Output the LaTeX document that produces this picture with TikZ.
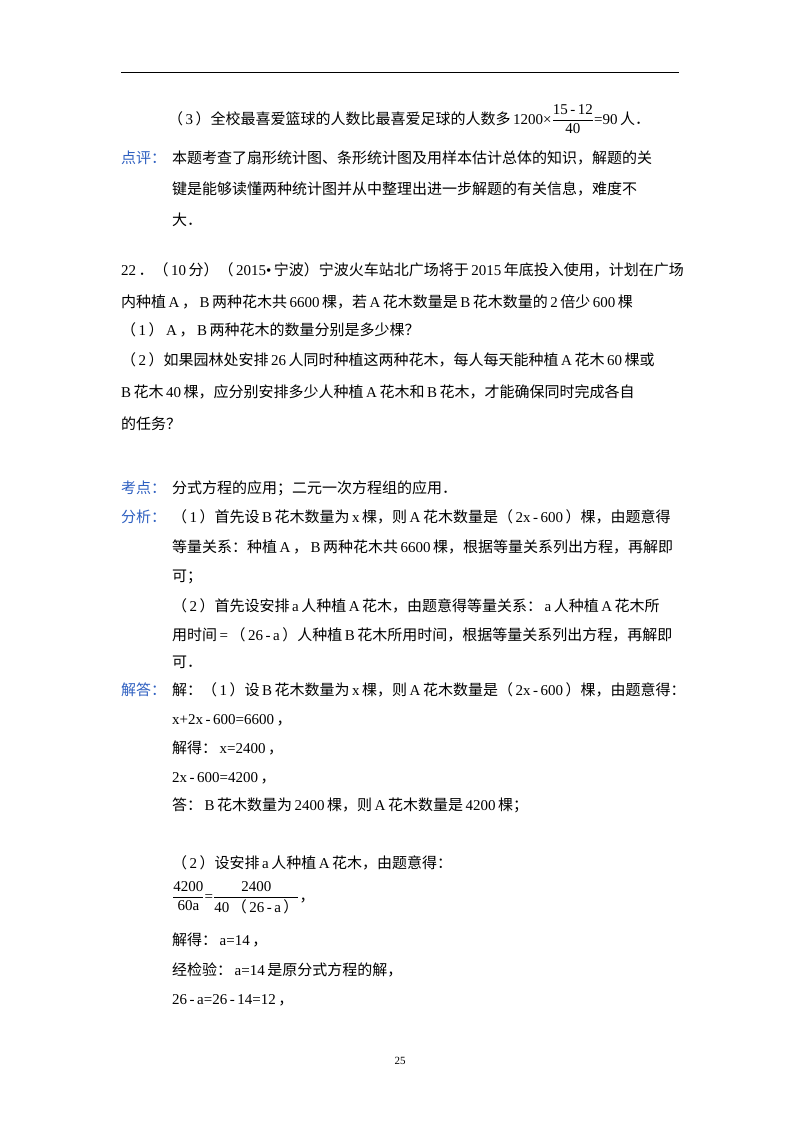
\documentclass[tikz,border=0pt]{standalone}
\usepackage{amsmath}
\usepackage{fontspec}
\setmainfont{Liberation Serif}
\newfontfamily\cjk{Noto Sans CJK SC}
\XeTeXinterchartokenstate=1
\newXeTeXintercharclass\cjkclass
\count255="4E00
\loop\XeTeXcharclass\count255=\cjkclass\ifnum\count255<"9FFF\advance\count255 1\repeat
\count255="3000
\loop\XeTeXcharclass\count255=\cjkclass\ifnum\count255<"303F\advance\count255 1\repeat
\count255="FF00
\loop\XeTeXcharclass\count255=\cjkclass\ifnum\count255<"FFEF\advance\count255 1\repeat
\XeTeXinterchartoks 0 \cjkclass={\hskip2.5pt\cjk}
\XeTeXinterchartoks 4095 \cjkclass={\cjk}
\XeTeXinterchartoks \cjkclass 0={\hskip2.5pt\rmfamily}
\definecolor{lab}{HTML}{2E5FC0}
\newcommand{\fr}[2]{$\genfrac{}{}{0.6pt}{0}{\text{\fontsize{15}{15}\selectfont #1}}{\text{\fontsize{15}{15}\selectfont #2}}$}
\begin{document}
\begin{tikzpicture}[x=1pt,y=-1pt,every node/.style={anchor=base west,inner sep=0pt,font=\fontsize{15}{18}\selectfont},lb/.style={text=lab}]
\useasboundingbox (0,0) rectangle (800,1132);
\draw[line width=0.8pt] (121,72) -- (679,72);
\node (l1) at (168,124) {（3）全校最喜爱篮球的人数比最喜爱足球的人数多1200×\fr{15\,-\,12}{40}=90人．};
\node[lb] (d1) at (121,163) {点评：};
\node (d2) at (172,163) {本题考查了扇形统计图、条形统计图及用样本估计总体的知识，解题的关};
\node (d3) at (172,194) {键是能够读懂两种统计图并从中整理出进一步解题的有关信息，难度不};
\node (d4) at (172,225) {大．};
\node (q1) at (121,275) {22．（10分）（2015•宁波）宁波火车站北广场将于2015年底投入使用，计划在广场};
\node (q2) at (121,307) {内种植A，B两种花木共6600棵，若A花木数量是B花木数量的2倍少600棵};
\node (q3) at (121,335) {（1）A，B两种花木的数量分别是多少棵？};
\node (q4) at (121,365) {（2）如果园林处安排26人同时种植这两种花木，每人每天能种植A花木60棵或};
\node (q5) at (121,397) {B花木40棵，应分别安排多少人种植A花木和B花木，才能确保同时完成各自};
\node (q6) at (121,429) {的任务？};
\node[lb] (k1) at (121,493) {考点：};
\node (k2) at (172,493) {分式方程的应用；二元一次方程组的应用．};
\node[lb] (f1) at (121,522) {分析：};
\node (f2) at (172,522) {（1）首先设B花木数量为x棵，则A花木数量是（2x\,-\,600）棵，由题意得};
\node (f3) at (172,552) {等量关系：种植A，B两种花木共6600棵，根据等量关系列出方程，再解即};
\node (f4) at (172,581) {可；};
\node (f5) at (172,611) {（2）首先设安排a人种植A花木，由题意得等量关系：a人种植A花木所};
\node (f6) at (172,640) {用时间=（26\,-\,a）人种植B花木所用时间，根据等量关系列出方程，再解即};
\node (f7) at (172,667) {可．};
\node[lb] (j1) at (121,695) {解答：};
\node (j2) at (172,695) {解：（1）设B花木数量为x棵，则A花木数量是（2x\,-\,600）棵，由题意得：};
\node (j3) at (172,724) {x+2x\,-\,600=6600，};
\node (j4) at (172,753) {解得：x=2400，};
\node (j5) at (172,782) {2x\,-\,600=4200，};
\node (j6) at (172,810) {答：B花木数量为2400棵，则A花木数量是4200棵；};
\node (s1) at (172,868) {（2）设安排a人种植A花木，由题意得：};
\node (s2) at (172,901) {\fr{4200}{60a}=\fr{2400}{40（26\,-\,a）}，};
\node (s3) at (172,945) {解得：a=14，};
\node (s4) at (172,975) {经检验：a=14是原分式方程的解，};
\node (s5) at (172,1004) {26\,-\,a=26\,-\,14=12，};
\node[anchor=base] (pg) at (400,1064) {\fontsize{11}{12}\selectfont 25};
\end{tikzpicture}
\end{document}
